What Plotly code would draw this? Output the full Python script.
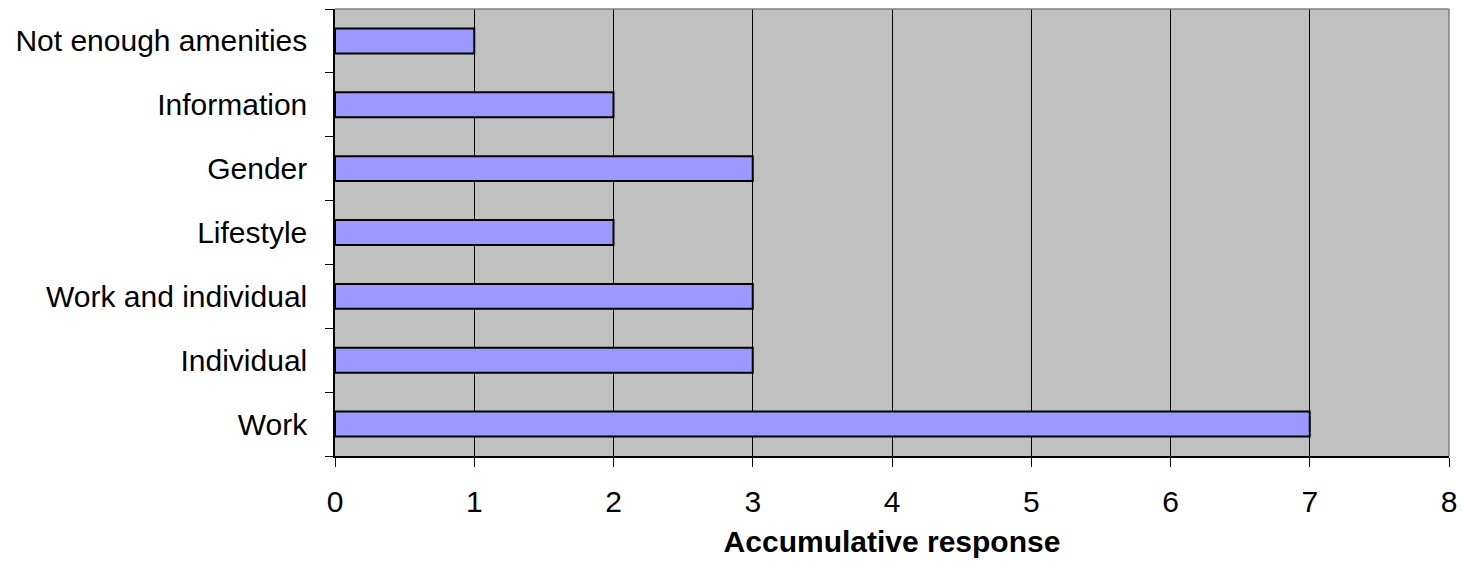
import plotly.graph_objects as go

categories = ["Work", "Individual", "Work and individual", "Lifestyle", "Gender", "Information", "Not enough amenities"]
values = [7, 3, 3, 2, 3, 2, 1]
x_ticks = [0, 1, 2, 3, 4, 5, 6, 7, 8]

fig = go.Figure()
fig.add_trace(go.Bar(
    x=values, y=categories, orientation="h",
    marker=dict(color="#9999FF", line=dict(color="black", width=2)),
    width=0.39,
))

font = dict(family="Liberation Sans, Arial, sans-serif", size=30, color="black")
fig.update_layout(
    width=1462, height=572,
    margin=dict(l=335, r=13, t=9, b=116, autoexpand=False),
    paper_bgcolor="white", plot_bgcolor="#C0C0C0",
    font=font, showlegend=False,
    xaxis=dict(range=[0, 8], tickvals=x_ticks, showgrid=True, gridcolor="black", gridwidth=1,
               zeroline=False, showline=True, linecolor="black", linewidth=1.5, mirror=False,
               ticks="outside", ticklen=9, tickcolor="black", tickfont=dict(size=30),
               ticklabelstandoff=9,
               title=dict(text="<b>Accumulative response</b>", standoff=14, font=dict(size=30))),
    yaxis=dict(type="category", categoryorder="array", categoryarray=categories,
               showgrid=False, showline=True, linecolor="black", linewidth=1.5,
               ticks="outside", ticklen=8, tickcolor="black", tickson="boundaries",
               tickfont=dict(size=30), ticklabelstandoff=20),
)
# top and right gray border
fig.add_shape(type="line", xref="paper", yref="paper", x0=0, x1=1, y0=1, y1=1, line=dict(color="#808080", width=1.5))
fig.add_shape(type="line", xref="paper", yref="paper", x0=1, x1=1, y0=0, y1=1, line=dict(color="#808080", width=1.5))
fig.write_html("out.html", config={"displayModeBar": False},
               post_script="document.body.style.margin='0';document.body.style.overflow='hidden';")
